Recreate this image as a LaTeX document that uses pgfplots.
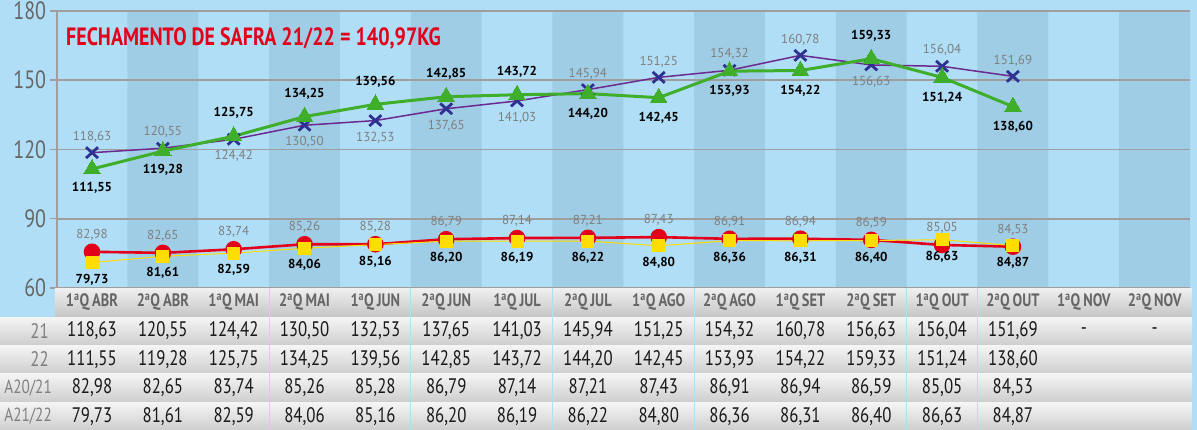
\documentclass[border=0pt]{standalone}
\usepackage{pgfplots}
\pgfplotsset{compat=1.18}
\usepackage{pgfplotstable}
\usepackage{fontspec}
\setmainfont{PT Sans}
\newfontfamily\cond[FakeStretch=0.8]{PT Sans}
\definecolor{bgblue}{HTML}{B0DEF6}
\definecolor{stripe}{HTML}{A0CDE6}
\definecolor{gridgray}{HTML}{9E9E9E}
\definecolor{purpleline}{HTML}{6B2A8F}
\definecolor{xmark}{HTML}{2E3192}
\definecolor{greenline}{HTML}{3FAE2A}
\definecolor{redline}{HTML}{E2001A}
\definecolor{yellowm}{HTML}{FFDD00}
\definecolor{labgray}{HTML}{7F7F7F}
\definecolor{headgray}{HTML}{666666}

\pgfplotstableread{
x y lab dy
1 118.63 118,63 16
2 120.55 120,55 16
3 124.42 124,42 -17
4 130.50 130,50 -17
5 132.53 132,53 -17
6 137.65 137,65 -17
7 141.03 141,03 -17
8 145.94 145,94 16
9 151.25 151,25 16
10 154.32 154,32 16
11 160.78 160,78 16
12 156.63 156,63 -17
13 156.04 156,04 16
14 151.69 151,69 16
}\safraA

\pgfplotstableread{
x y lab dy
1 111.55 111,55 -19
2 119.28 119,28 -19
3 125.75 125,75 23
4 134.25 134,25 23
5 139.56 139,56 23
6 142.85 142,85 23
7 143.72 143,72 23
8 144.20 144,20 -20
9 142.45 142,45 -20
10 153.93 153,93 -20
11 154.22 154,22 -20
12 159.33 159,33 23
13 151.24 151,24 -20
14 138.60 138,60 -20
}\safraB

\pgfplotstableread{
x y lab
1 82.98 82,98
2 82.65 82,65
3 83.74 83,74
4 85.26 85,26
5 85.28 85,28
6 86.79 86,79
7 87.14 87,14
8 87.21 87,21
9 87.43 87,43
10 86.91 86,91
11 86.94 86,94
12 86.59 86,59
13 85.05 85,05
14 84.53 84,53
}\mediaA

\pgfplotstableread{
x y lab
1 79.73 79,73
2 81.61 81,61
3 82.59 82,59
4 84.06 84,06
5 85.16 85,16
6 86.20 86,20
7 86.19 86,19
8 86.22 86,22
9 84.80 84,80
10 86.36 86,36
11 86.31 86,31
12 86.40 86,40
13 86.63 86,63
14 84.87 84,87
}\mediaB

\begin{document}
\begin{tikzpicture}[x=1pt,y=1pt]
\clip (0,0) rectangle (1197,430);
\fill[bgblue] (0,0) rectangle (1197,430);

% stripes
\begin{axis}[at={(56.6pt,142pt)}, anchor=south west, scale only axis,
  width=1133.4pt, height=277pt, xmin=0.5, xmax=16.5, ymin=60, ymax=180,
  hide axis]
\addplot[ybar, bar width=1, fill=stripe, draw=none]
  coordinates {(2,180) (4,180) (6,180) (8,180) (10,180) (12,180) (14,180) (16,180)};
\end{axis}

% main axis
\begin{axis}[at={(56.6pt,142pt)}, anchor=south west, scale only axis,
  width=1133.4pt, height=277pt, xmin=0.5, xmax=16.5, ymin=60, ymax=180,
  ytick={60,90,120,150,180},
  axis x line=none, axis y line*=left,
  ymajorgrids, grid style={gridgray, line width=1.8pt},
  y axis line style={gridgray, line width=1.8pt, -},
  tick align=outside, major tick length=7pt,
  ytick style={gridgray, line width=1.5pt},
  /pgf/number format/assume math mode=true,
  yticklabel style={font=\cond\fontsize{25}{25}\selectfont, text=headgray},
  clip=false]
\addplot[purpleline, line width=1.5pt, mark=x, mark size=8.5pt,
  mark options={xmark, line width=2.8pt, yscale=0.9},
  nodes near coords, point meta=explicit symbolic,
  visualization depends on={\thisrow{dy} \as \dy},
  nodes near coords style={anchor=center, yshift=\dy, text=labgray,
    font=\fontsize{13}{13}\selectfont}]
  table[x=x, y=y, meta=lab] {\safraA};
\addplot[greenline, line width=3pt, mark=triangle*, mark size=9.5pt,
  mark options={greenline, line width=0pt},
  nodes near coords, point meta=explicit symbolic,
  visualization depends on={\thisrow{dy} \as \dy},
  nodes near coords style={anchor=center, yshift=\dy, text=black,
    font=\bfseries\fontsize{13}{13}\selectfont}]
  table[x=x, y=y, meta=lab] {\safraB};
\end{axis}

% secondary axis (medias)
\begin{axis}[at={(56.6pt,142pt)}, anchor=south west, scale only axis,
  width=1133.4pt, height=277pt, xmin=0.5, xmax=16.5, ymin=72, ymax=156,
  hide axis, clip=false]
\addplot[redline, line width=2.6pt, mark=*, mark size=7pt,
  mark options={redline},
  nodes near coords, point meta=explicit symbolic,
  nodes near coords style={anchor=center, yshift=17pt, text=labgray,
    font=\fontsize{13}{13}\selectfont}]
  table[x=x, y=y, meta=lab] {\mediaA};
\addplot[yellowm, line width=1pt, mark=square*, mark size=6pt,
  mark options={yellowm},
  nodes near coords, point meta=explicit symbolic,
  nodes near coords style={anchor=center, yshift=-17pt, text=black,
    font=\bfseries\fontsize{13}{13}\selectfont}]
  table[x=x, y=y, meta=lab] {\mediaB};
\end{axis}

% title
\node[anchor=base west, text=redline, inner sep=0pt,
  font=\cond\bfseries\fontsize{25}{25}\selectfont]
  at (66,384) {FECHAMENTO DE SAFRA 21/22 = 140,97KG};

% table
\shade[top color=gray!12, bottom color=gray!45] (55,113.5) rectangle (1192,141.5);
\shade[top color=gray!8, bottom color=gray!38] (0,85.5) rectangle (1192,112.5);
\shade[top color=gray!8, bottom color=gray!38] (0,57) rectangle (1192,84.5);
\shade[top color=gray!8, bottom color=gray!38] (0,28.5) rectangle (1192,56);
\shade[top color=gray!8, bottom color=gray!38] (0,0) rectangle (1192,27.5);
\foreach \k in {3,5,7,9,12,13}{
  \draw[bgblue, line width=1pt] ({56.6+70.84*\k},0) -- ({56.6+70.84*\k},141.5);
}
\foreach \lab [count=\i] in {1\textsuperscript{a}Q\,ABR,2\textsuperscript{a}Q\,ABR,
  1\textsuperscript{a}Q\,MAI,2\textsuperscript{a}Q\,MAI,1\textsuperscript{a}Q\,JUN,
  2\textsuperscript{a}Q\,JUN,1\textsuperscript{a}Q\,JUL,2\textsuperscript{a}Q\,JUL,
  1\textsuperscript{a}Q\,AGO,2\textsuperscript{a}Q\,AGO,1\textsuperscript{a}Q\,SET,
  2\textsuperscript{a}Q\,SET,1\textsuperscript{a}Q\,OUT,2\textsuperscript{a}Q\,OUT,
  1\textsuperscript{a}Q\,NOV,2\textsuperscript{a}Q\,NOV}{
  \node[text=headgray, font=\cond\bfseries\fontsize{18}{18}\selectfont]
    at ({56.6+70.84*(\i-0.5)},127.5) {\lab};
}
\foreach \v [count=\i] in {{118,63},{120,55},{124,42},{130,50},{132,53},{137,65},{141,03},
  {145,94},{151,25},{154,32},{160,78},{156,63},{156,04},{151,69},{-},{-}}{
  \node[font=\cond\fontsize{21}{21}\selectfont, text=black!90]
    at ({56.6+70.84*(\i-0.5)},99) {\v};
}
\foreach \v [count=\i] in {{111,55},{119,28},{125,75},{134,25},{139,56},{142,85},{143,72},
  {144,20},{142,45},{153,93},{154,22},{159,33},{151,24},{138,60}}{
  \node[font=\cond\fontsize{21}{21}\selectfont, text=black!90]
    at ({56.6+70.84*(\i-0.5)},70.5) {\v};
}
\foreach \v [count=\i] in {{82,98},{82,65},{83,74},{85,26},{85,28},{86,79},{87,14},
  {87,21},{87,43},{86,91},{86,94},{86,59},{85,05},{84,53}}{
  \node[font=\cond\fontsize{21}{21}\selectfont, text=black!90]
    at ({56.6+70.84*(\i-0.5)},42) {\v};
}
\foreach \v [count=\i] in {{79,73},{81,61},{82,59},{84,06},{85,16},{86,20},{86,19},
  {86,22},{84,80},{86,36},{86,31},{86,40},{86,63},{84,87}}{
  \node[font=\cond\fontsize{21}{21}\selectfont, text=black!90]
    at ({56.6+70.84*(\i-0.5)},13.5) {\v};
}
\node[anchor=east, inner sep=0pt, text=labgray, font=\cond\fontsize{21}{21}\selectfont] at (49,99) {21};
\node[anchor=east, inner sep=0pt, text=labgray, font=\cond\fontsize{21}{21}\selectfont] at (49,70.5) {22};
\node[anchor=east, inner sep=0pt, text=labgray, font=\cond\fontsize{19}{19}\selectfont] at (52,42) {A20/21};
\node[anchor=east, inner sep=0pt, text=labgray, font=\cond\fontsize{19}{19}\selectfont] at (52,13.5) {A21/22};
\end{tikzpicture}
\end{document}
